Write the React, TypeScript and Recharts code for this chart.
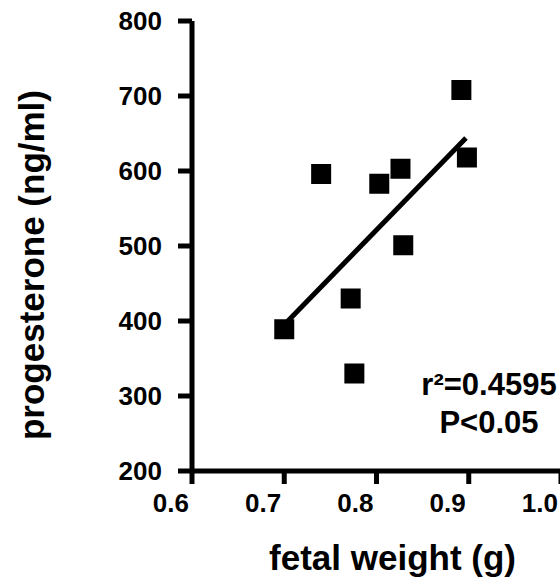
import React from 'react';
import { ScatterChart, Scatter, XAxis, YAxis, ReferenceLine, Customized } from 'recharts';

// values
const fetalWeight = [0.892, 0.898, 0.74, 0.826, 0.803, 0.829, 0.772, 0.7, 0.776];
const progesterone = [708, 618, 596, 603, 583, 501, 430, 389, 330];
const xTicks = [0.6, 0.7, 0.8, 0.9, 1.0];
const yTicks = [200, 300, 400, 500, 600, 700, 800];
const fitX = [0.7, 0.897];
const fitY = [395, 644];
const statLines = ['r\u00b2=0.4595', 'P<0.05'];

const points = fetalWeight.map((x, i) => ({ x, y: progesterone[i] }));

const FONT = '"Liberation Sans", Arial, Helvetica, sans-serif';

const SquareDot = (props: any) => {
  const { cx, cy } = props;
  return <rect x={cx - 10} y={cy - 10} width={20} height={20} fill="#000" />;
};

const XTick = ({ x, y, payload }: any) => (
  <text x={x - 3} y={y + 28} textAnchor="end" fontFamily={FONT} fontWeight="bold" fontSize={26} fill="#000">
    {Number(payload.value).toFixed(1)}
  </text>
);

const YTick = ({ x, y, payload }: any) => (
  <text x={x - 16} y={y + 9} textAnchor="end" fontFamily={FONT} fontWeight="bold" fontSize={26} fill="#000">
    {payload.value}
  </text>
);

const Stats = () => (
  <g>
    {statLines.map((s, i) => (
      <text key={s} x={489} y={395 + i * 38} textAnchor="middle" fontFamily={FONT} fontWeight="bold" fontSize={31} fill="#000">
        {s}
      </text>
    ))}
  </g>
);

const App = () => {
  return (
    <div style={{ position: 'absolute', left: 0, top: 0, width: 560, height: 579, overflow: 'hidden', background: '#fff' }}>
      <ScatterChart width={600} height={579} margin={{ top: 21, right: 39, bottom: 0, left: 0 }}>
        <XAxis
          type="number"
          dataKey="x"
          domain={[0.6, 1.0]}
          ticks={xTicks}
          allowDataOverflow
          height={108}
          tickSize={13}
          tickMargin={0}
          axisLine={{ stroke: '#000', strokeWidth: 5 }}
          tickLine={{ stroke: '#000', strokeWidth: 5 }}
          tick={<XTick />}
          label={{
            value: 'fetal weight (g)',
            position: 'insideBottom',
            offset: 9,
            dx: 16,
            style: { fontFamily: FONT, fontWeight: 'bold', fontSize: 35, fill: '#000' },
          }}
        />
        <YAxis
          type="number"
          dataKey="y"
          domain={[200, 800]}
          ticks={yTicks}
          allowDataOverflow
          width={192}
          tickSize={14}
          tickMargin={0}
          axisLine={{ stroke: '#000', strokeWidth: 5 }}
          tickLine={{ stroke: '#000', strokeWidth: 5 }}
          tick={<YTick />}
          label={{
            value: 'progesterone (ng/ml)',
            angle: -90,
            position: 'center',
            dx: -64,
            dy: 19,
            style: { fontFamily: FONT, fontWeight: 'bold', fontSize: 35, fill: '#000' },
          }}
        />
        <ReferenceLine
          segment={[
            { x: fitX[0], y: fitY[0] },
            { x: fitX[1], y: fitY[1] },
          ]}
          stroke="#000"
          strokeWidth={5}
          ifOverflow="visible"
        />
        <Scatter data={points} fill="#000" shape={<SquareDot />} isAnimationActive={false} />
        <Customized component={Stats} />
      </ScatterChart>
    </div>
  );
};

export default App;
